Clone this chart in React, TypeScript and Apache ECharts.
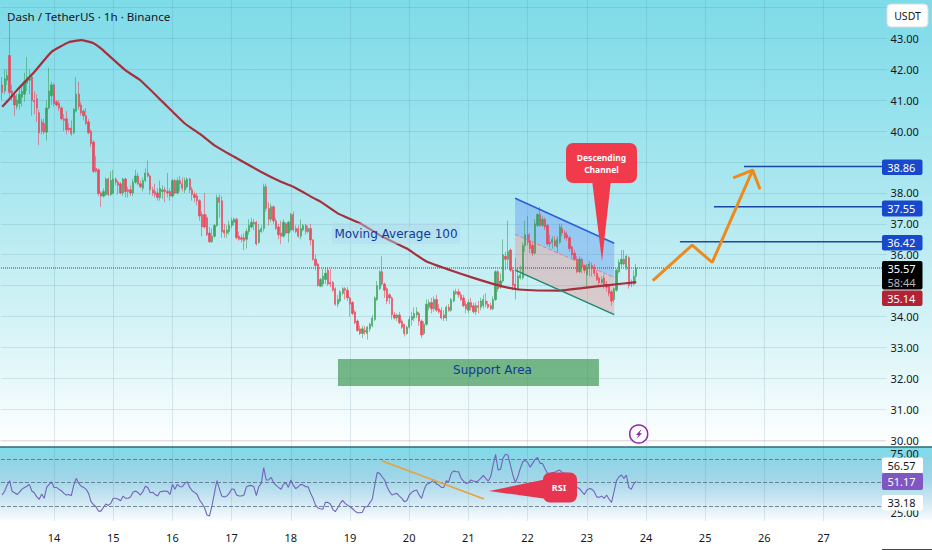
import React, { useEffect, useRef } from "react";
import * as echarts from "echarts";

// [open, close, low, high], one row per hour
const day13 = [[41.5,41.25,41.0,41.75],[41.3,41.7,41.2,42.0],[41.65,41.8,41.5,42.0],[42.45,41.25,41.1,43.6],[41.3,41.15,41.0,41.5],[41.15,40.85,40.5,41.3],[40.8,41.0,40.7,41.2],[40.9,41.2,40.7,41.35],[41.1,41.3,40.8,41.5],[41.2,41.6,40.95,41.9],[41.55,41.75,41.3,42.4],[41.65,41.7,41.2,42.0],[41.75,41.0,40.5,41.8],[41.0,40.95,40.55,41.3],[41.05,40.75,40.3,41.2],[40.6,39.95,39.55,40.7],[40.3,40.0,39.9,40.4],[40.25,39.97,39.9,40.4],[39.97,40.75,39.7,41.0],[40.75,41.3,40.7,42.05],[41.15,41.5,40.85,41.6]];
const day14 = [[41.5,40.9,40.8,41.55],[40.95,40.85,40.8,41.0],[40.9,40.75,40.65,41.0],[40.75,40.4,40.35,40.8],[40.4,40.35,40.0,40.55],[40.4,40.05,39.9,40.65],[40.1,40.05,39.98,40.25],[40.1,39.92,39.85,40.35],[39.95,40.7,39.9,40.75],[40.65,41.2,40.6,41.75],[41.2,40.8,40.7,41.6],[40.85,40.6,40.5,40.95],[40.65,40.5,40.35,40.7],[40.5,40.25,40.2,40.75],[40.3,39.95,39.9,40.4],[40.0,39.6,39.5,40.05],[39.65,38.7,38.65,39.7],[38.8,38.7,38.65,39.2],[38.75,37.98,37.9,38.8],[38.0,37.9,37.55,38.05],[37.9,38.05,37.85,38.15],[37.95,38.45,37.9,38.5],[38.45,37.95,37.9,38.5],[37.95,38.4,37.9,38.7]];
const day15 = [[38.0,38.45,37.95,38.75],[38.45,38.35,38.25,38.5],[38.35,38.25,37.95,38.4],[38.3,38.0,37.95,38.35],[38.0,38.45,37.9,38.5],[38.45,38.05,37.85,38.5],[38.1,38.05,37.85,38.2],[38.1,38.0,37.9,38.25],[38.0,38.35,37.9,38.45],[38.35,38.55,38.3,38.75],[38.55,38.3,38.25,38.65],[38.3,38.2,38.15,38.4],[38.15,38.4,38.05,38.5],[38.4,38.65,38.35,38.8],[38.65,38.55,38.5,39.05],[38.55,38.1,37.95,38.6],[38.1,38.0,37.9,38.2],[38.05,37.95,37.85,38.3],[38.0,37.85,37.75,38.15],[37.85,38.15,37.75,38.4],[38.05,38.1,37.8,38.25],[38.1,38.05,37.7,38.2],[38.05,38.0,37.85,38.65],[38.05,37.9,37.75,38.15]];
const day16 = [[37.9,38.4,37.85,38.45],[38.4,38.0,37.95,38.45],[38.0,38.4,37.95,38.5],[38.4,38.3,38.05,38.55],[38.3,38.15,38.05,38.5],[38.1,38.4,38.0,38.5],[38.2,38.45,38.15,38.5],[38.45,38.1,38.0,38.5],[38.1,37.95,37.75,38.2],[37.95,37.85,37.7,38.05],[37.9,37.75,37.6,38.0],[37.75,37.25,37.1,37.8],[37.3,36.9,36.6,37.4],[37.3,36.9,36.85,38.0],[37.2,36.65,36.6,37.3],[36.7,36.42,36.38,36.9],[36.42,36.6,36.38,36.85],[36.6,36.95,36.55,37.0],[36.95,37.85,36.9,37.95],[37.85,37.7,37.2,37.95],[37.75,36.75,36.55,37.9],[36.8,36.7,36.55,37.0],[36.7,36.8,36.55,36.95],[36.75,36.95,36.65,37.1]];
const day17 = [[36.95,37.1,36.85,37.2],[37.05,37.15,36.95,37.2],[37.15,36.55,36.5,37.2],[36.6,36.5,36.45,36.75],[36.55,36.5,36.4,36.65],[36.55,36.45,36.15,36.7],[36.5,36.75,36.2,36.85],[36.75,36.95,36.65,37.15],[36.9,37.05,36.85,37.2],[37.05,37.0,36.8,37.15],[37.05,36.35,36.3,37.1],[36.4,36.8,36.35,37.0],[36.75,36.85,36.7,36.95],[36.85,38.2,36.75,38.3],[38.2,37.5,37.4,38.3],[37.5,37.15,36.95,37.7],[37.15,37.55,37.05,37.65],[37.55,37.1,37.0,37.6],[37.1,36.85,36.8,37.2],[36.9,36.65,36.5,37.0],[36.7,36.6,36.35,37.1],[36.6,37.05,36.55,37.15],[37.0,36.7,36.65,37.05],[36.7,37.05,36.4,37.1]];
const day18 = [[36.8,37.3,36.75,37.35],[37.3,36.8,36.75,37.4],[36.85,36.75,36.7,36.95],[36.85,36.6,36.55,36.95],[36.6,36.85,36.5,37.15],[36.8,36.95,36.75,37.0],[36.95,36.75,36.65,37.0],[36.75,36.85,36.7,36.95],[36.85,36.48,36.3,37.0],[36.48,35.85,35.8,36.5],[35.85,35.65,35.5,36.0],[35.7,35.0,34.97,35.75],[34.98,35.2,34.95,35.25],[35.05,35.3,34.95,35.55],[35.2,35.4,35.05,35.6],[35.5,35.05,35.0,35.6],[35.1,35.05,34.95,35.55],[35.1,34.85,34.8,35.15],[34.9,34.4,34.35,34.95],[34.4,34.55,34.3,34.7],[34.5,34.8,34.45,34.85],[34.75,34.9,34.7,34.95],[34.9,34.85,34.55,34.95],[34.85,34.6,34.5,34.95]];
const day19 = [[34.6,34.4,34.0,34.65],[34.45,34.1,34.05,34.5],[34.15,33.8,33.75,34.2],[33.85,33.55,33.5,33.9],[33.6,33.45,33.4,33.7],[33.45,33.6,33.3,33.7],[33.55,33.5,33.4,33.7],[33.45,33.65,33.25,33.7],[33.6,33.75,33.5,33.8],[33.7,33.95,33.65,34.05],[33.9,34.6,33.85,34.65],[34.55,35.0,34.5,35.15],[34.9,35.45,34.85,35.5],[35.45,35.05,35.0,35.95],[35.05,34.85,34.6,35.1],[34.9,34.5,34.4,34.95],[34.7,34.6,34.4,34.75],[34.6,34.05,33.9,34.65],[34.05,33.95,33.9,34.15],[33.95,34.05,33.85,34.1],[34.05,33.8,33.75,34.15],[33.85,33.65,33.6,33.9],[33.75,33.45,33.35,33.75],[33.45,33.65,33.4,33.7]];
const day20 = [[33.65,33.9,33.6,34.0],[33.9,34.0,33.7,34.15],[33.95,34.1,33.85,34.3],[34.05,34.15,33.95,34.3],[34.1,33.85,33.7,34.15],[33.85,33.4,33.3,33.9],[33.45,33.75,33.4,33.85],[33.75,34.4,33.7,34.55],[34.3,34.45,34.2,34.55],[34.45,34.25,34.1,34.6],[34.25,34.55,34.15,34.65],[34.55,34.2,34.15,34.7],[34.25,34.15,34.1,34.4],[34.2,33.95,33.9,34.3],[34.05,33.95,33.85,34.2],[33.95,34.3,33.85,34.35],[34.3,34.2,34.15,34.4],[34.2,34.55,34.15,34.6],[34.5,34.8,34.45,34.85],[34.8,34.75,34.7,34.9],[34.8,34.7,34.6,34.9],[34.7,34.55,34.5,34.8],[34.6,34.35,34.3,34.7],[34.4,34.25,34.1,34.5]];
const day21 = [[34.2,34.45,34.1,34.55],[34.45,34.3,34.2,34.6],[34.35,34.15,34.1,34.45],[34.15,34.35,34.05,34.45],[34.35,34.3,34.1,34.5],[34.3,34.5,34.2,34.6],[34.35,34.55,34.25,34.7],[34.5,34.4,34.3,34.75],[34.4,34.3,34.25,34.5],[34.35,34.25,34.2,34.45],[34.25,34.55,34.2,34.65],[34.55,35.45,34.5,35.5],[35.45,34.9,34.8,35.5],[34.95,35.15,34.9,35.4],[35.15,36.0,35.1,36.5],[35.95,35.85,35.5,36.1],[35.85,36.1,35.6,37.1],[36.15,35.5,35.45,36.2],[35.5,35.0,34.85,35.6],[35.05,34.9,34.55,35.9],[34.9,35.3,34.85,35.6],[35.25,35.35,35.2,35.65],[35.25,36.3,35.2,36.4],[36.3,36.65,36.1,37.1]];
const day22 = [[36.65,36.4,36.3,37.25],[36.45,36.2,36.05,36.7],[36.3,36.05,35.95,36.4],[36.05,37.0,36.0,37.15],[36.95,37.3,36.9,37.35],[37.3,36.95,36.9,37.55],[36.95,37.15,36.9,37.25],[37.15,36.9,36.8,37.2],[36.95,36.35,36.3,37.0],[36.4,36.35,36.25,36.65],[36.4,36.5,36.2,36.6],[36.45,36.3,36.25,36.6],[36.25,36.5,36.05,36.6],[36.4,36.9,36.35,37.0],[36.85,36.7,36.6,37.0],[36.7,36.55,36.5,36.8],[36.65,36.55,36.45,36.75],[36.55,36.2,36.1,36.6],[36.25,36.0,35.9,36.3],[36.05,35.85,35.8,36.15],[35.85,35.45,35.4,35.95],[35.45,35.85,35.4,35.95],[35.85,35.6,35.4,35.9],[35.65,35.5,35.4,35.65]];
const day23 = [[35.35,35.6,34.95,35.7],[35.55,35.7,35.3,35.8],[35.65,35.55,35.3,35.75],[35.6,35.4,35.3,35.7],[35.4,35.2,35.15,35.5],[35.25,35.1,35.0,35.3],[35.1,35.2,35.05,35.3],[35.25,35.0,34.9,35.35],[35.05,34.95,34.8,35.15],[35.0,34.75,34.65,35.05],[34.8,34.5,34.35,34.85],[34.55,34.9,34.45,34.95],[34.85,35.5,34.8,35.55],[35.45,35.75,35.4,35.85],[35.7,35.85,35.6,36.15],[35.85,35.7,35.65,36.15],[35.6,35.95,35.5,36.0],[35.9,35.0,34.9,35.95],[35.1,35.05,34.95,35.2],[35.05,35.3,35.0,35.5],[35.3,35.57,35.05,35.7]];

// Moving Average 100: [hour index, price]
const maPoints = [[0,40.79],[3,41.05],[6,41.33],[13,41.92],[20,42.57],[27,42.88],[32,42.95],[37,42.85],[40,42.68],[50,41.97],[56,41.65],[65,40.95],[74,40.25],[80,39.92],[86,39.54],[94,39.17],[105,38.68],[113,38.36],[118,38.2],[127,37.8],[129,37.72],[136,37.34],[145,37.02],[154,36.59],[164,36.2],[172,35.78],[182,35.49],[191,35.25],[200,35.03],[208,34.89],[215,34.85],[226,34.84],[235,34.92],[245,35.01],[257,35.11]];

// RSI, one value per hour
const rsiValues = [39.6,43,48,51.7,42.7,41.5,40,42,44.6,46,47,48.6,43,41.5,38,36,40.4,36.8,46,48.6,50.6,46,46,44.4,43.2,41,39.6,40,39,48,53.7,49.4,47,46,44.4,41,34,31.4,29.7,26,26,29,32,30.8,32.5,36.8,36.8,36,34.8,38.7,36.8,36.8,38,42,43,41.8,39.6,42.4,47,46,41.5,42,40,38.7,42.4,42.7,43,42.7,40,48.6,44.4,48.6,46.6,46.6,49.4,50.8,46,43.2,41.8,40,35.4,32.5,29,22.7,21.8,30.3,41,51.7,45,38.7,38,38.7,41,44.6,44.4,39.6,38.7,38.7,39.6,46.6,47.5,47.7,46.6,39,46.6,49.4,62.7,52.3,52.3,54.5,50,47.7,46,44.4,48.6,50,46,52.3,47.7,45,46.6,48.6,48,46.6,46.6,41,36.8,31,28.6,28,27.7,33.4,33.4,32,27.5,25.5,28.9,32.5,35,32.5,31,29.7,28,26,24.6,24.6,25,29.7,29.7,33,36,48,58.5,57.9,55,52.3,46.6,42.4,39.6,40.4,41,38.7,36.8,34,34.8,39.6,41.8,43.2,43.8,39.6,36.8,43.8,48.6,49.4,50.8,52.3,48.9,48,46,46,51.7,50.8,57.9,60,59.3,59.3,53.7,51.4,49.4,50,52.3,51.4,50.8,51.7,53.7,56.2,53.7,51.4,55,65,74,60.7,61.3,70.6,74,73.4,65,56.5,50,55,62,67.7,69,67,63,66.3,69.7,71.4,66.3,66.3,62,58,57.5,58.5,58.7,60,60.7,58.7,58,58,57.3,55,50.8,46,45,42.4,40,43.8,45,44.6,42.4,38,37.6,38.7,36.8,39.6,36,33.4,42.4,51.7,55,56.5,53.7,56.5,46,44.4,49,51.17];
const rsiBands = [70, 50, 30];

const dayLabels = ["14","15","16","17","18","19","20","21","22","23","24","25","26","27"];
const titleText = "Dash / TetherUS · 1h · Binance";
const currency = "USDT";
const targets = [38.86, 37.55, 36.42];
const targetStarts = [301.2, 289, 275.2];
const lastPrice = 35.57;
const countdown = "58:44";
const maPrice = 35.14;
const rsiMaTag = 56.57;
const rsiTag = 51.17;
const rsiLowTag = 33.18;
const coveredPrices = [44, 39, 35];

// hand-drawn objects, in [hour position, price] or [hour position, rsi]
const arrowPath = [[264.2,35.16],[280.2,36.31],[288.3,35.75],[304.7,38.74],[296.8,38.49],[304.7,38.74],[307.7,38.12]];
const channelTop = [[208.4,37.83],[248.6,36.37]];
const channelMid = [[208.4,36.66],[248.6,35.26]];
const channelBottom = [[208.4,35.5],[248.6,34.06]];
const supportBox = [136.6,32.62,242.4,31.75];
const rsiTrend = [[154.3,68.6],[195.8,36.2]];

const HOURS = 359;

function App() {
  const ref = useRef<HTMLDivElement>(null);
  useEffect(() => {
    document.body.style.margin = "0";
    const chart = echarts.init(ref.current!, null, { renderer: "svg" });
    const candles = [...day13, ...day14, ...day15, ...day16, ...day17, ...day18, ...day19, ...day20, ...day21, ...day22, ...day23];
    const hours = Array.from({ length: HOURS }, (_, i) => String(i));
    const frameCats = Array.from({ length: HOURS }, (_, i) => {
      const k = (i - 21) / 24;
      return Number.isInteger(k) && dayLabels[k] ? dayLabels[k] : "";
    });
    const isDay = (i: number) => frameCats[i] !== "";
    const font = '"Noto Sans"';
    const gridColor = "rgba(70,120,140,0.16)";

    const tag = (x: number, y: number, w: number, h: number, fill: string, text: string, color: string) => [
      { type: "rect", z: 30, shape: { x, y, width: w, height: h, r: 2 }, style: { fill } },
      { type: "text", z: 31, x: x + w / 2 - 1, y: y + h / 2, style: { text, fill: color, font: `11px ${font}`, textAlign: "center", textVerticalAlign: "middle" } },
    ];

    const polygonSeries = (pts: number[], fill: string, xIdx: number, yIdx: number) => ({
      type: "custom", xAxisIndex: xIdx, yAxisIndex: yIdx, z: 1, silent: true,
      data: [pts],
      renderItem: (_: any, api: any) => {
        const points: number[][] = [];
        for (let i = 0; i < pts.length; i += 2) points.push(api.coord([api.value(i), api.value(i + 1)]));
        return { type: "polygon", shape: { points }, style: { fill } };
      },
    });
    const lineSeries = (data: number[][], color: string, width: number, xIdx = 2, yIdx = 1, type = "solid", z = 5) => ({
      type: "line", xAxisIndex: xIdx, yAxisIndex: yIdx, data, symbol: "none", silent: true, z,
      lineStyle: { color, width, type },
    });

    const option: any = {
      animation: false,
      backgroundColor: "transparent",
      grid: [
        { left: 2.2, width: 883, top: 0, height: 521 },
        { left: 1, width: 885.6, top: 7.68, height: 432.32 },
        { left: 1, width: 885.6, top: 447.2, height: 71 },
      ],
      xAxis: [
        {
          gridIndex: 0, type: "category", data: frameCats, boundaryGap: false,
          axisLine: { show: false }, axisTick: { show: false },
          axisLabel: { interval: (i: number) => isDay(i), color: "#131722", fontSize: 11, fontFamily: font, margin: 11, hideOverlap: false },
          splitLine: { show: true, interval: (i: number) => isDay(i), lineStyle: { color: gridColor, width: 1 } },
        },
        { gridIndex: 1, type: "category", data: hours, show: false },
        { gridIndex: 1, type: "value", min: 0, max: HOURS, show: false, splitLine: { show: false } },
        { gridIndex: 2, type: "category", data: hours, show: false },
        { gridIndex: 2, type: "value", min: 0, max: HOURS, show: false, splitLine: { show: false } },
      ],
      yAxis: [
        { gridIndex: 0, type: "value", min: 0, max: 1, show: false, splitLine: { show: false } },
        {
          gridIndex: 1, type: "value", position: "right", min: 30, max: 44, interval: 1,
          axisLine: { show: false }, axisTick: { show: false },
          axisLabel: { color: "#131722", fontSize: 11, fontFamily: font, margin: 4, formatter: (v: number) => (coveredPrices.includes(v) ? "" : v.toFixed(2)) },
          splitLine: { show: true, lineStyle: { color: gridColor, width: 1 } },
        },
        {
          gridIndex: 2, type: "value", position: "right", min: 20, max: 80, interval: 5,
          axisLine: { show: false }, axisTick: { show: false }, splitLine: { show: false },
          axisLabel: { color: "#131722", fontSize: 11, fontFamily: font, margin: 4, formatter: (v: number) => (v === 25 || v === 75 ? v.toFixed(2) : "") },
        },
      ],
      series: [
        { type: "line", xAxisIndex: 0, yAxisIndex: 0, data: [], symbol: "none" },
        polygonSeries([channelTop[0][0], channelTop[0][1], channelTop[1][0], channelTop[1][1], channelMid[1][0], channelMid[1][1], channelMid[0][0], channelMid[0][1]], "rgba(88,140,240,0.36)", 2, 1),
        polygonSeries([channelMid[0][0], channelMid[0][1], channelMid[1][0], channelMid[1][1], channelBottom[1][0], channelBottom[1][1], channelBottom[0][0], channelBottom[0][1]], "rgba(240,120,120,0.32)", 2, 1),
        polygonSeries([supportBox[0], supportBox[1], supportBox[2], supportBox[1], supportBox[2], supportBox[3], supportBox[0], supportBox[3]], "rgba(62,150,80,0.68)", 2, 1),
        lineSeries([[0, lastPrice], [HOURS, lastPrice]], "#3a4a52", 1, 2, 1, "dotted", 2),
        {
          type: "candlestick", xAxisIndex: 1, yAxisIndex: 1, data: candles, barWidth: 1.8, z: 3, silent: true,
          itemStyle: { color: "#2f9a4c", color0: "#f2364a", borderColor: "#2f9a4c", borderColor0: "#f2364a", borderWidth: 0.6, opacity: 0.88 },
        },
        { ...lineSeries(maPoints.map(([i, p]) => [i + 0.5, p]), "#a62f3e", 2.2), smooth: 0.15 },
        lineSeries(channelTop, "#2b5fd8", 1.5),
        lineSeries(channelMid, "rgba(225,110,120,0.8)", 1, 2, 1, "dashed"),
        lineSeries(channelBottom, "#1f8a6e", 1.5),
        ...targets.map((t, k) => lineSeries([[targetStarts[k], t], [HOURS - 0.6, t]], "#1c45a8", 1.5)),
        lineSeries(arrowPath, "#ee8a1c", 3),
        {
          type: "line", xAxisIndex: 3, yAxisIndex: 2, data: rsiValues, symbol: "none", silent: true, z: 5,
          lineStyle: { color: "#7463b8", width: 1.1 },
          markLine: {
            silent: true, symbol: "none", label: { show: false },
            lineStyle: { color: "rgba(80,100,120,0.75)", type: "dashed", width: 1 },
            data: rsiBands.map((v) => ({ yAxis: v })),
          },
        },
        lineSeries(rsiTrend, "#e5a23c", 1.5, 4, 2),
      ],
      graphic: [
        { type: "line", z: 10, shape: { x1: 0, y1: 441, x2: 885, y2: 441 }, style: { stroke: "rgba(240,170,185,0.4)", lineWidth: 1 } },
        { type: "line", z: 10, shape: { x1: 0, y1: 447, x2: 932, y2: 447 }, style: { stroke: "#2d6a78", lineWidth: 1.5 } },
        { type: "line", z: 10, shape: { x1: 882, y1: 549.5, x2: 932, y2: 549.5 }, style: { stroke: "#444", lineWidth: 1 } },
        { type: "text", z: 20, x: 7, y: 16, style: { text: titleText, fill: "#131722", font: `11.6px ${font}`, textVerticalAlign: "middle" } },

        { type: "rect", z: 20, shape: { x: 332, y: 223, width: 128, height: 21, r: 2 }, style: { fill: "rgba(180,215,235,0.45)" } },
        { type: "text", z: 21, x: 396, y: 234, style: { text: "Moving Average 100", fill: "#12389a", font: '12px "DejaVu Sans"', textAlign: "center", textVerticalAlign: "middle" } },
        { type: "text", z: 21, x: 492.5, y: 370, style: { text: "Support Area", fill: "#12389a", font: '12px "DejaVu Sans"', textAlign: "center", textVerticalAlign: "middle" } },

        { type: "polygon", z: 20, shape: { points: [[592, 180], [611, 180], [602, 261]] }, style: { fill: "#f23a4d" } },
        { type: "rect", z: 20, shape: { x: 566, y: 143, width: 71, height: 40, r: 7 }, style: { fill: "#f23a4d" } },
        { type: "text", z: 21, x: 601.5, y: 163, style: { text: "Descending\nChannel", fill: "#fff", font: `bold 8.5px ${font}`, textAlign: "center", textVerticalAlign: "middle", lineHeight: 12 } },

        { type: "polygon", z: 20, shape: { points: [[489, 491], [547, 479], [547, 499]] }, style: { fill: "#e8354f" } },
        { type: "rect", z: 20, shape: { x: 543, y: 472.5, width: 34, height: 30, r: 7 }, style: { fill: "#e8354f" } },
        { type: "text", z: 21, x: 559, y: 487, style: { text: "RSI", fill: "#fff", font: `bold 9px ${font}`, textAlign: "center", textVerticalAlign: "middle" } },

        { type: "circle", z: 20, shape: { cx: 638.7, cy: 434, r: 9 }, style: { fill: "#fff", stroke: "#8e24aa", lineWidth: 1.5 } },
        { type: "polygon", z: 21, shape: { points: [[641.5, 429], [636, 435], [638.6, 435], [636.5, 439], [642, 433.3], [639.5, 433.3]] }, style: { fill: "#8e24aa" } },

        { type: "rect", z: 30, shape: { x: 887, y: 4, width: 41, height: 23, r: 4 }, style: { fill: "#fff", stroke: "#d5dde2", lineWidth: 1 } },
        { type: "text", z: 31, x: 907.5, y: 16, style: { text: currency, fill: "#131722", font: `10.5px ${font}`, textAlign: "center", textVerticalAlign: "middle" } },

        ...tag(882, 159.5, 40.5, 15.5, "#1848cc", targets[0].toFixed(2), "#fff"),
        ...tag(882, 200.5, 40.5, 16, "#1848cc", targets[1].toFixed(2), "#fff"),
        ...tag(882, 235, 40.5, 15.5, "#1848cc", targets[2].toFixed(2), "#fff"),
        { type: "rect", z: 30, shape: { x: 882, y: 261, width: 40.5, height: 28.5, r: 2 }, style: { fill: "#000" } },
        { type: "text", z: 31, x: 901.5, y: 268.5, style: { text: lastPrice.toFixed(2), fill: "#fff", font: `11px ${font}`, textAlign: "center", textVerticalAlign: "middle" } },
        { type: "text", z: 31, x: 901.5, y: 282, style: { text: countdown, fill: "#b8b8b8", font: `11px ${font}`, textAlign: "center", textVerticalAlign: "middle" } },
        ...tag(882, 290.5, 40.5, 15.5, "#b22234", maPrice.toFixed(2), "#fff"),

        ...tag(882, 457.5, 41, 15.5, "#fff", rsiMaTag.toFixed(2), "#131722"),
        ...tag(882, 473, 41, 17, "#7e57c2", rsiTag.toFixed(2), "#fff"),
        ...tag(882, 495, 41, 15.5, "#fff", rsiLowTag.toFixed(2), "#131722"),
      ],
    };
    chart.setOption(option);
    return () => chart.dispose();
  }, []);

  return (
    <div style={{ position: "absolute", left: 0, top: 0, width: 932, height: 550, background: "#fff", overflow: "hidden" }}>
      <div style={{ position: "absolute", left: 0, top: 0, width: 932, height: 447, background: "linear-gradient(to bottom, #7edbe8 0px, #93e1ec 100px, #aee8f0 200px, #cdf1f5 300px, #eaf9fb 390px, #ffffff 445px)" }} />
      <div style={{ position: "absolute", left: 0, top: 447, width: 932, height: 76, background: "linear-gradient(to bottom, #7cdde8 0px, #8dd5e6 12px, #a2d6e9 32px, #d0e9f3 55px, #ffffff 75px)" }} />
      <div ref={ref} style={{ position: "absolute", left: 0, top: 0, width: 932, height: 550 }} />
    </div>
  );
}

export default App;
